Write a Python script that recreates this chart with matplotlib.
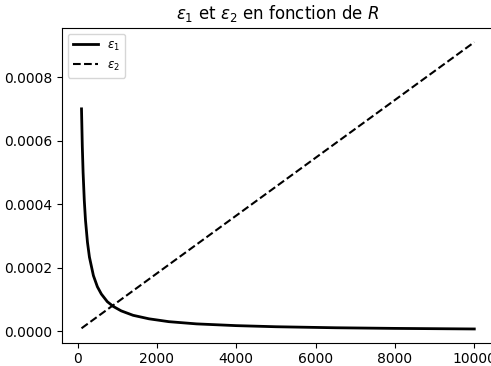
import numpy as np
import matplotlib.pyplot as plt

# values
R1 = [100, 120, 140, 170, 200, 250, 300, 400, 500, 600, 750, 900, 1100, 1400,
      1800, 2300, 3000, 4000, 5000, 6500, 8000, 10000]
eps1 = [7.0e-4, 5.83e-4, 5.0e-4, 4.12e-4, 3.5e-4, 2.8e-4, 2.33e-4, 1.75e-4,
        1.4e-4, 1.17e-4, 9.3e-5, 7.8e-5, 6.4e-5, 5.0e-5, 3.9e-5, 3.0e-5,
        2.3e-5, 1.75e-5, 1.4e-5, 1.08e-5, 8.8e-6, 7.0e-6]
R2 = [100, 10000]
eps2 = [9.1e-6, 9.1e-4]

fig = plt.figure(figsize=(4.91, 3.66), dpi=100)
ax = fig.add_axes([0.126, 0.062, 0.88, 0.862])
ax.plot(R1, eps1, 'k-', lw=2, label=r'$\varepsilon_1$')
ax.plot(R2, eps2, 'k--', lw=1.5, label=r'$\varepsilon_2$')
ax.set_title(r'$\varepsilon_1$ et $\varepsilon_2$ en fonction de $R$')
ax.set_yticks([0, 0.0002, 0.0004, 0.0006, 0.0008])
ax.set_xticks([0, 2000, 4000, 6000, 8000, 10000])
ax.tick_params(axis='x', pad=2.5)
ax.legend(loc='upper left', fontsize=8.6, handlelength=2.1)
fig.savefig('out.png')
